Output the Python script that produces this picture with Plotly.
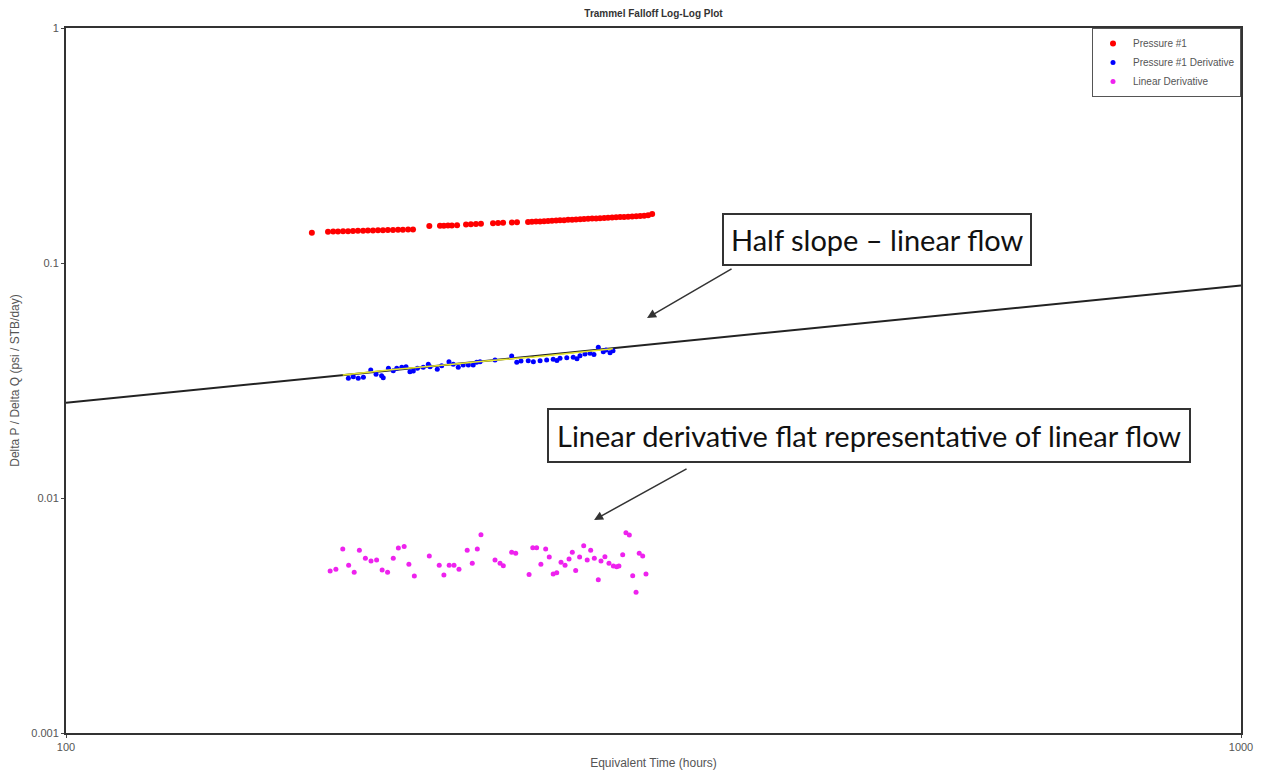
import plotly.graph_objects as go

# Pressure #1 (delta P / delta Q)
pressure_t = [161.9, 167.1, 168.8, 170.4, 172.1, 173.8, 175.5, 177.2, 179.0, 180.7,
              182.5, 184.3, 186.1, 187.9, 189.8, 191.7, 193.5, 195.5, 197.4, 203.8,
              208.1, 209.7, 211.4, 213.0, 215.2, 219.0, 221.1, 223.3, 225.5, 230.9,
              233.2, 235.5, 239.6, 242.0, 247.3, 249.2, 251.2, 253.2, 255.2, 257.2,
              259.2, 261.3, 263.3, 265.4, 267.5, 269.6, 271.7, 273.9, 276.0, 278.2,
              280.4, 282.6, 284.8, 287.1, 289.3, 291.6, 293.9, 296.2, 298.5, 300.9,
              303.3, 305.7, 308.1, 310.5, 312.9, 315.4]
pressure_v = [0.1345, 0.1358, 0.1360, 0.1362, 0.1365, 0.1366, 0.1368, 0.1370, 0.1372, 0.1374,
              0.1375, 0.1377, 0.1379, 0.1381, 0.1382, 0.1384, 0.1386, 0.1388, 0.1390, 0.1437,
              0.1440, 0.1442, 0.1443, 0.1445, 0.1448, 0.1460, 0.1463, 0.1466, 0.1470, 0.1478,
              0.1480, 0.1482, 0.1488, 0.1490, 0.1494, 0.1497, 0.1500, 0.1503, 0.1506, 0.1510,
              0.1512, 0.1516, 0.1519, 0.1522, 0.1526, 0.1528, 0.1532, 0.1535, 0.1538, 0.1542,
              0.1545, 0.1548, 0.1551, 0.1555, 0.1558, 0.1561, 0.1565, 0.1568, 0.1571, 0.1575,
              0.1578, 0.1582, 0.1586, 0.1590, 0.1596, 0.1616]

# Pressure #1 derivative
deriv_t = [173.9, 175.6, 177.3, 179.1, 181.7, 183.6, 185.6, 186.2, 188.1, 189.9,
           191.2, 193.1, 194.7, 196.2, 197.5, 199.1, 201.4, 203.4, 204.1, 207.0,
           208.8, 211.8, 213.6, 215.7, 217.8, 220.0, 222.1, 223.6, 225.1, 231.8,
           239.5, 241.9, 243.9, 247.4, 249.9, 253.2, 256.5, 259.8, 261.7, 263.3,
           266.8, 270.2, 272.2, 273.8, 276.5, 279.2, 281.4, 283.8, 286.6, 288.1,
           290.4, 292.1]
deriv_v = [0.03231, 0.03282, 0.03231, 0.03263, 0.03505, 0.03360, 0.03314, 0.03250, 0.03564, 0.03481,
           0.03564, 0.03599, 0.03620, 0.03447, 0.03471, 0.03564, 0.03599, 0.03706, 0.03620, 0.03529,
           0.03655, 0.03802, 0.03706, 0.03599, 0.03681, 0.03681, 0.03681, 0.03780, 0.03802, 0.03866,
           0.04020, 0.03780, 0.03828, 0.03839, 0.03802, 0.03839, 0.03866, 0.03893, 0.03847, 0.03931,
           0.03954, 0.03970, 0.03912, 0.04032, 0.04100, 0.04128, 0.04080, 0.04379, 0.04194, 0.04264,
           0.04153, 0.04235]

# smoothed derivative (yellow)
smooth_t = [172.0, 190.0, 210.0, 230.0, 250.0, 270.0, 292.0]
smooth_v = [0.0334, 0.0352, 0.0368, 0.0385, 0.0398, 0.0415, 0.0432]

# Linear derivative
lin_t = [167.8, 169.7, 172.0, 174.0, 175.9, 177.7, 179.8, 181.8, 183.8, 185.8,
         187.8, 189.9, 191.8, 194.0, 195.8, 197.9, 203.8, 207.8, 209.7, 211.9,
         213.9, 216.0, 219.5, 221.7, 223.9, 225.5, 231.8, 234.1, 235.6, 239.5,
         241.4, 247.8, 249.6, 251.5, 253.6, 256.0, 257.8, 259.8, 261.6, 263.8,
         265.9, 268.0, 269.7, 271.5, 273.6, 275.8, 277.7, 279.6, 281.6, 283.8,
         285.3, 287.5, 289.8, 292.3, 294.2, 295.5, 297.7, 299.6, 301.6, 303.6,
         305.6, 307.5, 309.6, 311.6]
lin_v = [0.00489, 0.00497, 0.00607, 0.00517, 0.00483, 0.00599, 0.00554, 0.00539, 0.00545, 0.00494,
         0.00483, 0.00554, 0.00613, 0.00621, 0.00522, 0.00466, 0.00566, 0.00517, 0.00470, 0.00517,
         0.00517, 0.00497, 0.00599, 0.00527, 0.00607, 0.00698, 0.00545, 0.00527, 0.00515, 0.00587,
         0.00582, 0.00472, 0.00614, 0.00614, 0.00522, 0.00607, 0.00561, 0.00475, 0.00481, 0.00533,
         0.00517, 0.00550, 0.00587, 0.00492, 0.00561, 0.00627, 0.00545, 0.00599, 0.00554, 0.00449,
         0.00539, 0.00563, 0.00527, 0.00514, 0.00510, 0.00514, 0.00574, 0.00712, 0.00696, 0.00467,
         0.00397, 0.00582, 0.00566, 0.00475]

# half slope line
half_t = [100, 1000]
half_v = [0.0254, 0.0803]

y_ticks = [0.001, 0.01, 0.1, 1]
y_labels = ["0.001", "0.01", "0.1", "1"]
x_ticks = [100, 1000]
x_labels = ["100", "1000"]

fig = go.Figure()
fig.add_trace(go.Scatter(x=half_t, y=half_v, mode="lines", showlegend=False,
                         line=dict(color="#222222", width=2)))
fig.add_trace(go.Scatter(x=pressure_t, y=pressure_v, mode="markers", name="Pressure #1",
                         marker=dict(color="#ff0000", size=6)))
fig.add_trace(go.Scatter(x=deriv_t, y=deriv_v, mode="markers", name="Pressure #1 Derivative",
                         marker=dict(color="#0000ff", size=5)))
fig.add_trace(go.Scatter(x=smooth_t, y=smooth_v, mode="lines", showlegend=False,
                         line=dict(color="#e6e62e", width=1.5)))
fig.add_trace(go.Scatter(x=lin_t, y=lin_v, mode="markers", name="Linear Derivative",
                         marker=dict(color="#ee22ee", size=5)))

box_font = dict(family="Lato, Open Sans, sans-serif", size=29, color="#111111")
fig.add_annotation(x=2.6906, y=-0.9, xref="x", yref="y", text="Half slope \u2013 linear flow",
                   showarrow=False, font=box_font, bgcolor="white", bordercolor="#333333",
                   borderwidth=2, borderpad=7)
fig.add_annotation(x=2.683, y=-1.734, xref="x", yref="y",
                   text="Linear derivative flat representative of linear flow",
                   showarrow=False, font=box_font, bgcolor="white", bordercolor="#333333",
                   borderwidth=2, borderpad=8)
# arrows
fig.add_annotation(x=2.4945, y=-1.234, ax=2.5677, ay=-1.0213, xref="x", yref="y",
                   axref="x", ayref="y", text="", showarrow=True, arrowhead=2,
                   arrowsize=1.2, arrowwidth=1.5, arrowcolor="#333333")
fig.add_annotation(x=2.4494, y=-2.0936, ax=2.5294, ay=-1.8723, xref="x", yref="y",
                   axref="x", ayref="y", text="", showarrow=True, arrowhead=2,
                   arrowsize=1.2, arrowwidth=1.5, arrowcolor="#333333")

# page body adds 8px around the figure
fig.update_layout(
    width=1254, height=762,
    margin=dict(l=58, r=21, t=20, b=37),
    paper_bgcolor="white", plot_bgcolor="white",
    title=dict(text="<b>Trammel Falloff Log-Log Plot</b>", x=0.5, xref="paper",
               y=0.993, yref="container", yanchor="middle",
               font=dict(family="Liberation Sans, Arial", size=10, color="#333333")),
    font=dict(family="Liberation Sans, Arial", size=11, color="#555555"),
    legend=dict(x=1, y=1, xanchor="right", yanchor="top", bgcolor="white",
                bordercolor="#555555", borderwidth=1, font=dict(size=10, color="#555555"),
                tracegroupgap=0),
)
fig.update_xaxes(type="log", range=[2, 3], tickvals=x_ticks, ticktext=x_labels,
                 showgrid=False, zeroline=False, showline=True, mirror=True,
                 linecolor="#333333", linewidth=2, ticks="outside", ticklen=3,
                 automargin=False,
                 title=dict(text="Equivalent Time (hours)",
                            font=dict(size=12, color="#555555")))
fig.update_yaxes(type="log", range=[-3, 0], tickvals=y_ticks, ticktext=y_labels,
                 showgrid=False, zeroline=False, showline=True, mirror=True,
                 linecolor="#333333", linewidth=2, ticks="outside", ticklen=3,
                 automargin=False,
                 title=dict(text="Delta P / Delta Q (psi / STB/day)",
                            font=dict(size=12, color="#555555")))

fig.write_html("out.html")
